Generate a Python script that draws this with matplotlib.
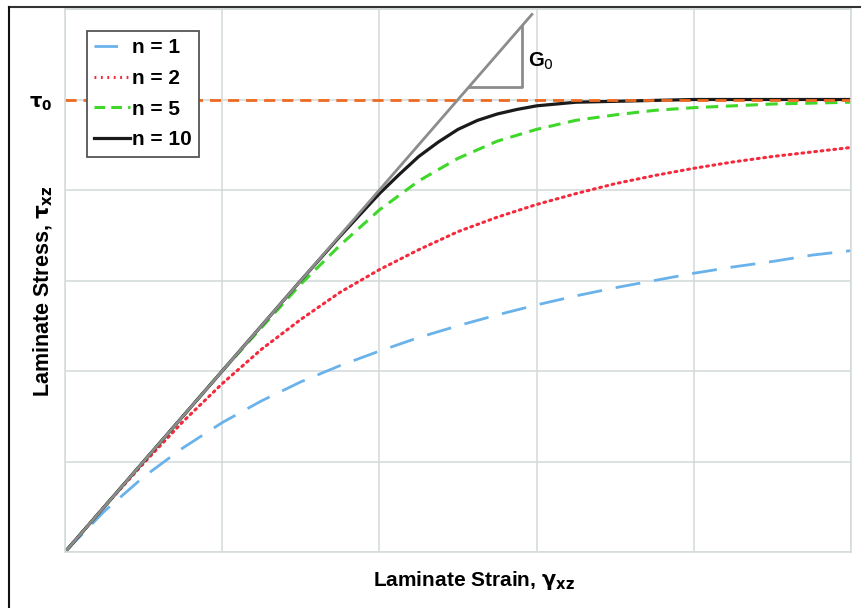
import matplotlib
matplotlib.use("Agg")
import matplotlib.pyplot as plt
from matplotlib.lines import Line2D

plt.rcParams['font.family'] = ['Liberation Sans', 'DejaVu Sans']

# strain values (grid units) and stress
gamma = [0, 0.25, 0.5, 0.75, 1.0, 1.25, 1.5, 1.75, 2.0, 2.25, 2.5,
         2.75, 3.0, 3.25, 3.5, 3.75, 4.0, 4.25, 4.5, 4.75, 5.0]
tau_n1 = [0, 0.45, 0.83, 1.15, 1.43, 1.67, 1.88, 2.06, 2.22, 2.37, 2.50,
          2.62, 2.73, 2.83, 2.92, 3.00, 3.08, 3.15, 3.21, 3.28, 3.33]
tau_n2 = [0, 0.50, 0.98, 1.44, 1.86, 2.24, 2.57, 2.87, 3.12, 3.34, 3.54,
          3.70, 3.84, 3.96, 4.07, 4.16, 4.24, 4.31, 4.37, 4.42, 4.47]
tau_n5 = [0, 0.50, 1.00, 1.50, 2.00, 2.48, 2.96, 3.39, 3.78, 4.10, 4.35,
          4.54, 4.67, 4.77, 4.83, 4.88, 4.91, 4.93, 4.95, 4.96, 4.97]
gamma10 = [0, 0.25, 0.5, 0.75, 1.0, 1.25, 1.5, 1.75, 2.0, 2.125, 2.25,
           2.375, 2.5, 2.625, 2.75, 2.875, 3.0, 3.125, 3.25, 3.5, 3.75,
           4.0, 4.25, 4.5, 4.75, 5.0]
tau_n10 = [0, 0.50, 1.00, 1.50, 2.00, 2.50, 3.00, 3.49, 3.96, 4.17, 4.37,
           4.53, 4.67, 4.77, 4.84, 4.89, 4.93, 4.95, 4.97, 4.98, 4.99,
           5.00, 5.00, 5.00, 5.00, 5.00]
tau0 = 5.0
slope_x = [0, 2.97]
slope_y = [0, 5.94]
tri_x = [2.569, 2.907, 2.907]
tri_y = [5.138, 5.138, 5.814]

fig = plt.figure(figsize=(8.62, 6.08), dpi=100)
ax = fig.add_axes([65 / 862, 1 - 552 / 608, 786 / 862, 543 / 608])

ax.plot(gamma, tau_n1, color='#6ab2ea', lw=2, dashes=(9, 5))
ax.plot(gamma, tau_n2, color='#f42a3c', lw=2.2, linestyle=(0, (0.6, 1.5)),
        dash_capstyle='round')
ax.plot(gamma, tau_n5, color='#3fd82a', lw=2.2, dashes=(4, 2.5))
ax.plot(gamma10, tau_n10, color='#1a1a1a', lw=2.3)
ax.plot([0, 5], [tau0, tau0], color='#ee6a22', lw=2, dashes=(4, 2.5))
ax.plot(slope_x, slope_y, color='#8c8c8c', lw=2)
ax.plot(tri_x, tri_y, color='#8c8c8c', lw=2)
ax.text(2.945, 5.42, r'G$_0$', fontsize=14.5, fontweight='bold', va='center')

ax.set_xlim(0, 5)
ax.set_ylim(0, 6)
ax.set_xticks([0, 1, 2, 3, 4, 5])
ax.set_yticks([0, 1, 2, 3, 4, 5, 6])
ax.grid(True, color='#d5dbdb', lw=1.2)
ax.set_axisbelow(True)
ax.tick_params(length=0, labelbottom=False, labelleft=False)
for s in ax.spines.values():
    s.set_color('#d5dbdb')
    s.set_linewidth(1.2)

fig.text(41 / 862, 1 - 104 / 608, r'$\mathbf{\tau_0}$', fontsize=14,
         ha='center', va='center')
fig.text(474 / 862, 1 - 580 / 608, r'Laminate Strain, $\mathbf{\gamma_{xz}}$',
         fontsize=15, fontweight='bold', ha='center', va='center')
fig.text(43 / 862, 1 - 291 / 608, r'Laminate Stress, $\mathbf{\tau_{xz}}$',
         fontsize=15.5, fontweight='bold', ha='center', va='center',
         rotation=90)

handles = [
    Line2D([], [], color='#6ab2ea', lw=2, dashes=(8.5, 10)),
    Line2D([], [], color='#f42a3c', lw=2.2, linestyle=(0, (0.6, 1.5))),
    Line2D([], [], color='#3fd82a', lw=2.2, dashes=(3.5, 2)),
    Line2D([], [], color='#1a1a1a', lw=2.3),
]
labels = ['n = 1', 'n = 2', 'n = 5', 'n = 10']
leg = ax.legend(handles, labels, loc='upper left',
                bbox_to_anchor=(22 / 786, 1 - 22 / 543), borderaxespad=0,
                prop={'weight': 'bold', 'size': 15}, fancybox=False,
                edgecolor='#555555', handlelength=1.7, handletextpad=0.1,
                labelspacing=0.56, borderpad=0.35, framealpha=1)
leg.get_frame().set_linewidth(1.3)

# outer frame lines (top and left)
fig.add_artist(Line2D([9 / 862, 1], [1 - 7 / 608, 1 - 7 / 608],
                      color='#333333', lw=1.5))
fig.add_artist(Line2D([9 / 862, 9 / 862], [0, 1 - 7 / 608],
                      color='#111111', lw=1.5))

fig.savefig('out.png', dpi=100)
